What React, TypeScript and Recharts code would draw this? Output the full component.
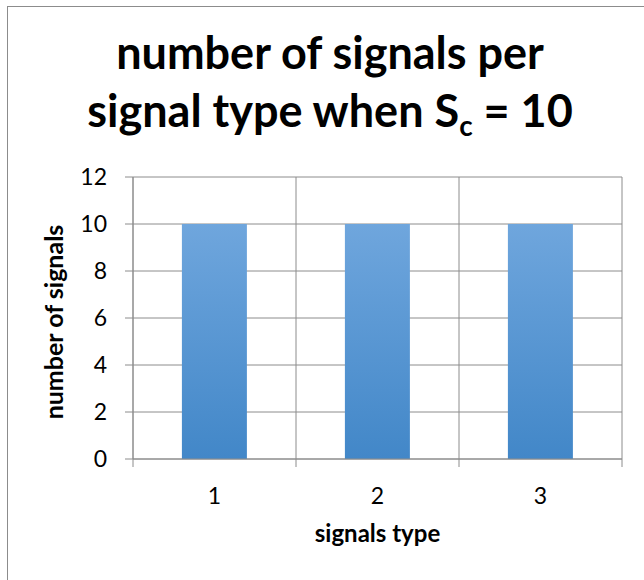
import { BarChart, Bar, XAxis, YAxis, CartesianGrid, Label } from 'recharts'

const categories = ['1', '2', '3']
const signalCounts = [10, 10, 10]
const yTicks = [0, 2, 4, 6, 8, 10, 12]

const data = categories.map((type, i) => ({ type, signals: signalCounts[i] }))

const GRID = '#8c8c8c'
const FONT = 'Lato, "Open Sans", sans-serif'
const TICK_SIZE = 8
const TICK_GAP = 21

// category label plus boundary tick marks (Excel style, between categories)
// eslint-disable-next-line @typescript-eslint/no-explicit-any
function XTick(props: any) {
  const { x, y, payload, index, visibleTicksCount, width } = props
  const half = width / (2 * visibleTicksCount)
  const axisY = y - TICK_SIZE - TICK_GAP
  return (
    <g>
      <line x1={x - half} x2={x - half} y1={axisY} y2={axisY + TICK_SIZE} stroke={GRID} />
      {index === visibleTicksCount - 1 && (
        <line x1={x + half} x2={x + half} y1={axisY} y2={axisY + TICK_SIZE} stroke={GRID} />
      )}
      <text x={x} y={y} dy="0.71em" textAnchor="middle" fill="#000" fontSize={23} fontFamily={FONT}>
        {payload.value}
      </text>
    </g>
  )
}

// eslint-disable-next-line @typescript-eslint/no-explicit-any
function YTitle({ viewBox }: any) {
  const cx = viewBox.x + 10
  const cy = viewBox.y + viewBox.height / 2 + 4
  return (
    <text x={cx} y={cy} transform={`rotate(-90, ${cx}, ${cy})`} textAnchor="middle"
      fontSize={25} fontWeight="bold" fontFamily={FONT} fill="#000">
      number of signals
    </text>
  )
}

// eslint-disable-next-line @typescript-eslint/no-explicit-any
function XTitle({ viewBox }: any) {
  return (
    <text x={viewBox.x + viewBox.width / 2} y={viewBox.y + 83} textAnchor="middle"
      fontSize={24} fontWeight="bold" fontFamily={FONT} fill="#000">
      signals type
    </text>
  )
}

export default function App() {
  return (
    <div style={{ position: 'fixed', left: 0, top: 0, width: 644, height: 580, overflow: 'hidden', background: '#fff' }}>
      <svg width={644} height={580} style={{ position: 'absolute', left: 0, top: 0 }}>
        <rect x={7.5} y={6.5} width={660} height={600} fill="none" stroke={GRID} />
      </svg>
      <div style={{
        position: 'absolute', left: 0, top: 23, width: 660, textAlign: 'center',
        fontFamily: FONT, fontWeight: 'bold', fontSize: 45, lineHeight: '58px', color: '#000',
      }}>
        number of signals per
        <br />
        signal type when S
        <span style={{ fontSize: '0.62em', position: 'relative', top: 9 }}>c</span>
        {' = 10'}
      </div>
      <div style={{ position: 'absolute', left: 0, top: 0 }}>
        <BarChart width={644} height={580} data={data} margin={{ top: 177, right: 22, left: 53, bottom: 31 }}
          barCategoryGap="30%">
          <defs>
            <linearGradient id="barFill" x1="0" y1="0" x2="0" y2="1">
              <stop offset="0%" stopColor="#6fa6dd" />
              <stop offset="100%" stopColor="#4287c8" />
            </linearGradient>
          </defs>
          <CartesianGrid
            stroke={GRID}
            verticalCoordinatesGenerator={({ offset }: any) =>
              [...categories.map((_, i) => offset.left + (offset.width * i) / categories.length), offset.left + offset.width]
            }
          />
          <XAxis dataKey="type" height={90} tick={<XTick />} tickLine={false} tickSize={TICK_SIZE} tickMargin={TICK_GAP}
            axisLine={{ stroke: GRID }}>
            <Label content={<XTitle />} />
          </XAxis>
          <YAxis width={80} domain={[0, 12]} ticks={yTicks} interval={0} tickSize={TICK_SIZE} tickMargin={18}
            axisLine={{ stroke: GRID }} tickLine={{ stroke: GRID }}
            tick={{ fill: '#000', fontSize: 23, fontFamily: FONT }}>
            <Label content={<YTitle />} />
          </YAxis>
          <Bar dataKey="signals" fill="url(#barFill)" isAnimationActive={false} />
        </BarChart>
      </div>
    </div>
  )
}
